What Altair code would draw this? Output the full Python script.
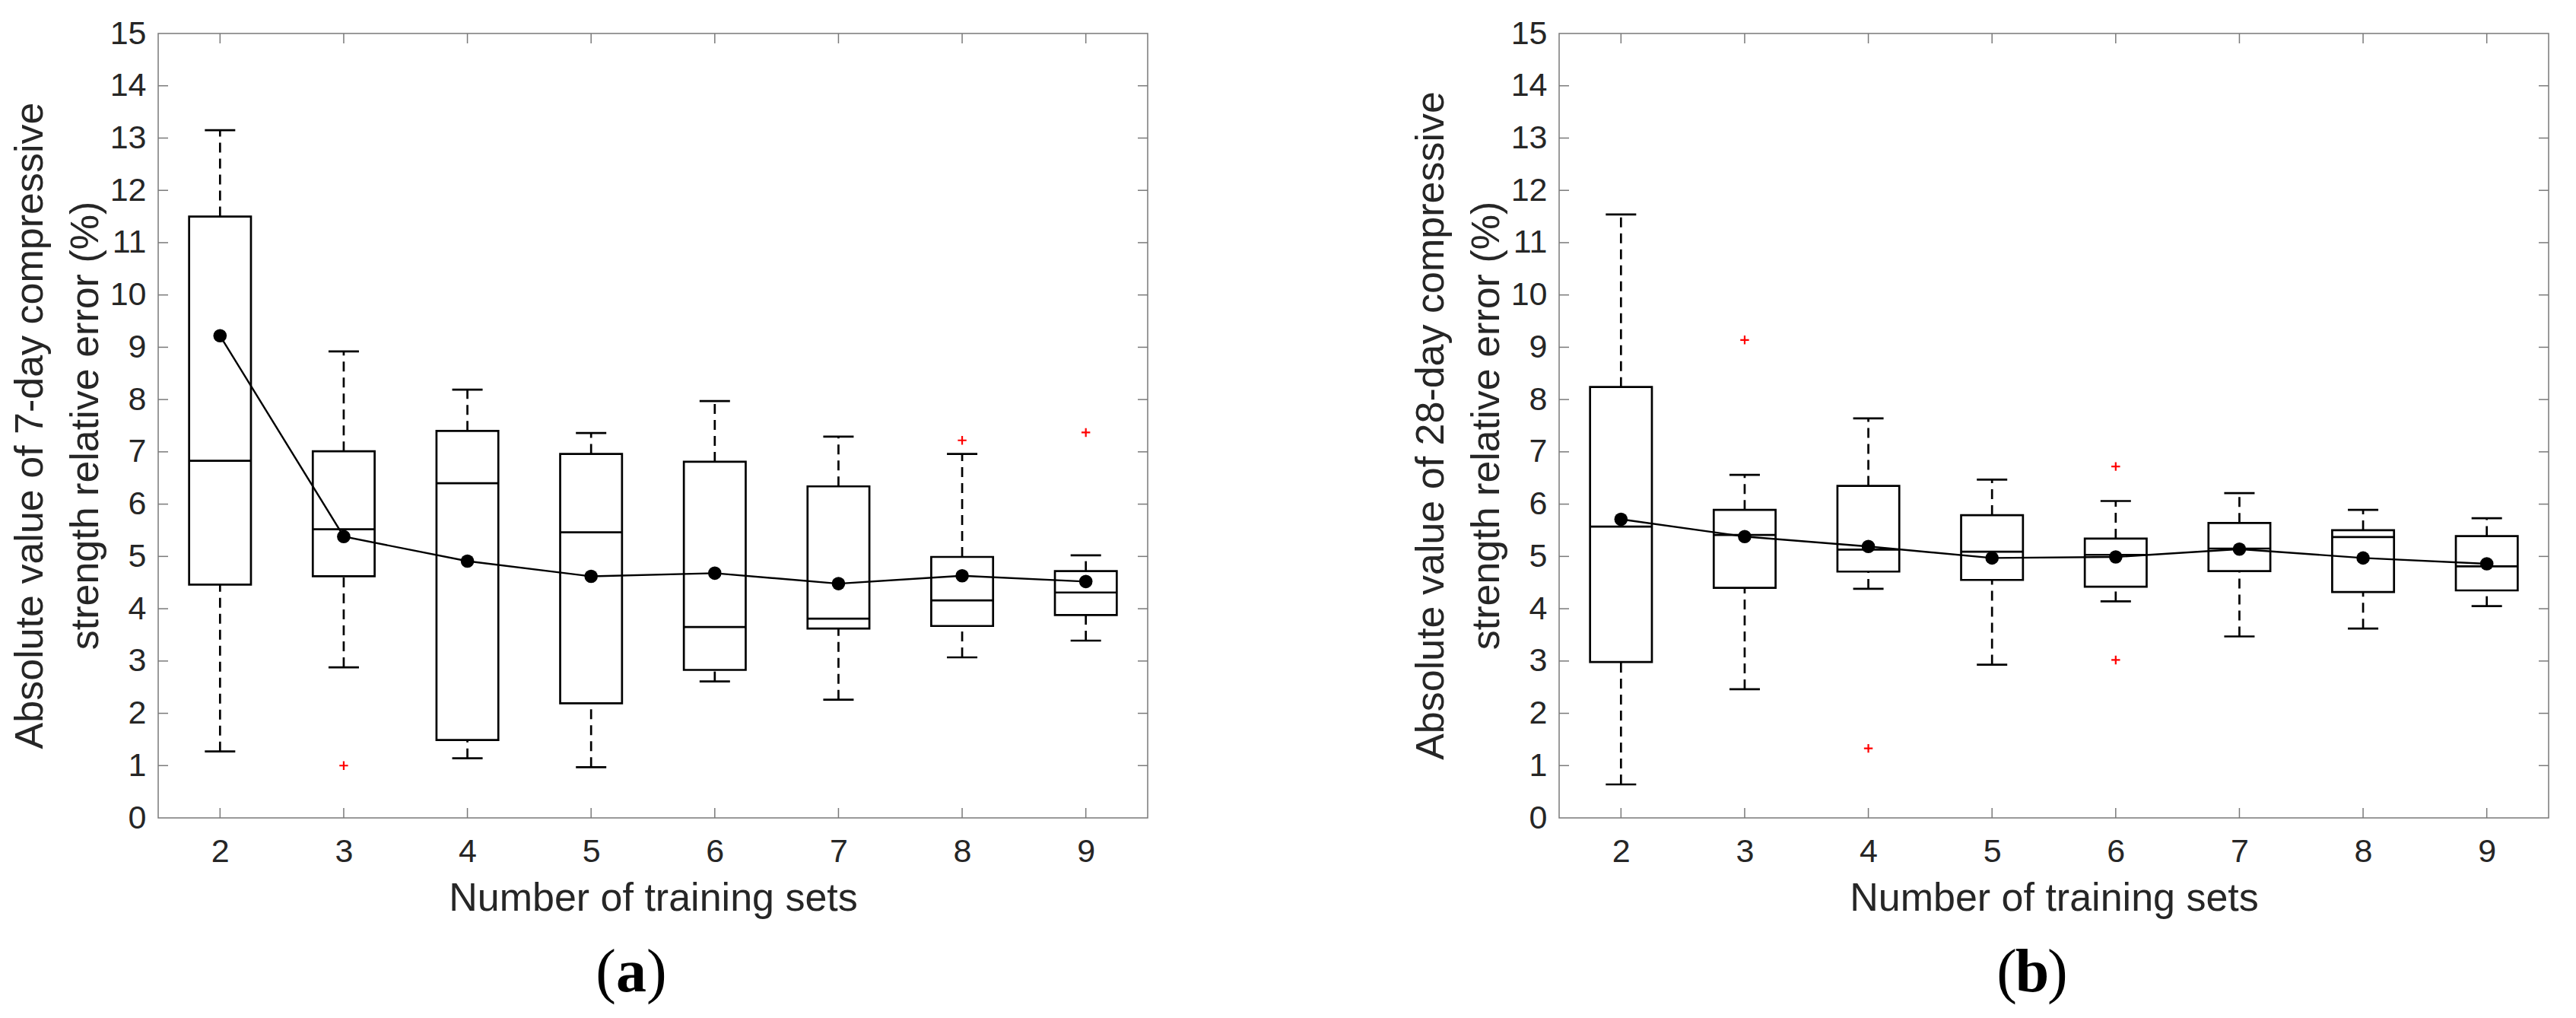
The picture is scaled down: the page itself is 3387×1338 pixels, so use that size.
import altair as alt
import pandas as pd

# ---------------- data ----------------
n_sets = [2, 3, 4, 5, 6, 7, 8, 9]

# (a) 7-day compressive strength
a_low = [1.27, 2.88, 1.14, 0.97, 2.61, 2.26, 3.07, 3.39]
a_q1 = [4.46, 4.62, 1.49, 2.19, 2.83, 3.62, 3.67, 3.88]
a_med = [6.83, 5.52, 6.40, 5.46, 3.65, 3.81, 4.16, 4.31]
a_q3 = [11.50, 7.01, 7.40, 6.96, 6.81, 6.34, 4.99, 4.72]
a_high = [13.15, 8.92, 8.19, 7.36, 7.97, 7.29, 6.96, 5.02]
a_mean = [9.22, 5.38, 4.91, 4.62, 4.68, 4.48, 4.63, 4.52]
a_out_x = [3, 8, 9]
a_out_y = [1.00, 7.22, 7.37]

# (b) 28-day compressive strength
b_low = [0.64, 2.46, 4.38, 2.93, 4.14, 3.47, 3.62, 4.05]
b_q1 = [2.98, 4.40, 4.71, 4.55, 4.42, 4.72, 4.32, 4.35]
b_med = [5.57, 5.41, 5.13, 5.09, 5.03, 5.15, 5.37, 4.81]
b_q3 = [8.24, 5.89, 6.35, 5.79, 5.34, 5.64, 5.50, 5.39]
b_high = [11.54, 6.56, 7.64, 6.47, 6.06, 6.21, 5.89, 5.73]
b_mean = [5.71, 5.38, 5.19, 4.97, 4.99, 5.14, 4.97, 4.86]
b_out_x = [3, 4, 6, 6]
b_out_y = [9.14, 1.33, 6.72, 3.02]

y_ticks = list(range(0, 16))
x_title = "Number of training sets"
a_ytitle = ["Absolute value of 7-day compressive", "strength relative error (%)"]
b_ytitle = ["Absolute value of 28-day compressive", "strength relative error (%)"]

# ---------------- styling ----------------
W, H = 1301, 1031
BOX_HALF = 0.25
CAP_HALF = 0.123
TICK_LEN = 13
FRAME = "#7a7a7a"
TXT = "#262626"
SANS = "Liberation Sans"
SERIF = "Liberation Serif"
LW = 2.7


def panel(low, q1, med, q3, high, mean, out_x, out_y, ytitle, tag):
    df = pd.DataFrame({"n": n_sets, "low": low, "q1": q1, "med": med,
                       "q3": q3, "high": high, "mean": mean})
    df["bl"] = df["n"] - BOX_HALF
    df["br"] = df["n"] + BOX_HALF
    df["cl"] = df["n"] - CAP_HALF
    df["cr"] = df["n"] + CAP_HALF
    out = pd.DataFrame({"n": out_x, "v": out_y})
    xt = pd.DataFrame({"t": n_sets})
    yt = pd.DataFrame({"t": y_ticks[1:-1]})

    xs = alt.Scale(domain=[1.5, 9.5], nice=False, zero=False)
    ys = alt.Scale(domain=[0, 15], nice=False, zero=False)

    xaxis = alt.Axis(values=n_sets, format="d", ticks=False, domain=False, grid=False,
                     labelFontSize=43, labelPadding=23, labelFlush=False,
                     title=x_title, titleFontSize=52, titlePadding=14,
                     titleFontWeight="normal")
    yaxis = alt.Axis(values=y_ticks, format="d", ticks=False, domain=False, grid=False,
                     labelFontSize=43, labelPadding=16, labelFlush=False,
                     title=None)

    def X(f):
        return alt.X(f, scale=xs, axis=xaxis)

    def Y(f):
        return alt.Y(f, scale=ys, axis=yaxis)

    base = alt.Chart(df)
    dash = [13, 8]

    wlo = base.mark_rule(color="black", strokeWidth=LW, strokeDash=dash).encode(
        x=X("n:Q"), y=Y("low:Q"), y2="q1:Q")
    whi = base.mark_rule(color="black", strokeWidth=LW, strokeDash=dash).encode(
        x=X("n:Q"), y=Y("q3:Q"), y2="high:Q")
    cap_lo = base.mark_rule(color="black", strokeWidth=LW).encode(
        x=X("cl:Q"), x2="cr:Q", y=Y("low:Q"))
    cap_hi = base.mark_rule(color="black", strokeWidth=LW).encode(
        x=X("cl:Q"), x2="cr:Q", y=Y("high:Q"))
    box = base.mark_rect(fill="white", fillOpacity=0, stroke="black", strokeWidth=LW).encode(
        x=X("bl:Q"), x2="br:Q", y=Y("q1:Q"), y2="q3:Q")
    median = base.mark_rule(color="black", strokeWidth=LW).encode(
        x=X("bl:Q"), x2="br:Q", y=Y("med:Q"))
    outl = alt.Chart(out).mark_point(shape="M-1,0L1,0M0,-1L0,1", filled=False,
                                     stroke="#ff0000", strokeWidth=2.2, size=130,
                                     opacity=1).encode(
        x=X("n:Q"), y=Y("v:Q"))
    mline = base.mark_line(color="black", strokeWidth=2.4).encode(
        x=X("n:Q"), y=Y("mean:Q"))
    mpts = base.mark_circle(color="black", size=310, opacity=1).encode(
        x=X("n:Q"), y=Y("mean:Q"))

    tick_style = dict(color=FRAME, strokeWidth=1.5)
    t_left = alt.Chart(yt).mark_rule(**tick_style).encode(
        y=Y("t:Q"), x=alt.value(0), x2=alt.value(TICK_LEN))
    t_right = alt.Chart(yt).mark_rule(**tick_style).encode(
        y=Y("t:Q"), x=alt.value(W - TICK_LEN), x2=alt.value(W))
    t_bot = alt.Chart(xt).mark_rule(**tick_style).encode(
        x=X("t:Q"), y=alt.value(H), y2=alt.value(H - TICK_LEN))
    t_top = alt.Chart(xt).mark_rule(**tick_style).encode(
        x=X("t:Q"), y=alt.value(0), y2=alt.value(TICK_LEN))

    lab = pd.DataFrame({"s": [tag]})
    yt1 = alt.Chart(lab).mark_text(text=ytitle[0], angle=270, font=SANS, fontSize=52,
                                   color=TXT, align="center", baseline="alphabetic").encode(
        x=alt.value(-152), y=alt.value(H / 2))
    yt2 = alt.Chart(lab).mark_text(text=ytitle[1], angle=270, font=SANS, fontSize=52,
                                   color=TXT, align="center", baseline="alphabetic").encode(
        x=alt.value(-79), y=alt.value(H / 2))

    cx = 622
    by = 1259
    p_open = alt.Chart(lab).mark_text(text="(", font=SERIF, fontSize=80, align="right",
                                      baseline="alphabetic", color="black").encode(
        x=alt.value(cx - 20), y=alt.value(by))
    p_mid = alt.Chart(lab).mark_text(font=SERIF, fontSize=80, fontWeight="bold", align="center",
                                     baseline="alphabetic", color="black").encode(
        text="s:N", x=alt.value(cx), y=alt.value(by))
    p_close = alt.Chart(lab).mark_text(text=")", font=SERIF, fontSize=80, align="left",
                                       baseline="alphabetic", color="black").encode(
        x=alt.value(cx + 20), y=alt.value(by))

    return alt.layer(wlo, whi, cap_lo, cap_hi, box, median, outl, mline, mpts,
                     t_left, t_right, t_bot, t_top, yt1, yt2,
                     p_open, p_mid, p_close).properties(width=W, height=H)


left = panel(a_low, a_q1, a_med, a_q3, a_high, a_mean, a_out_x, a_out_y, a_ytitle, "a")
right = panel(b_low, b_q1, b_med, b_q3, b_high, b_mean, b_out_x, b_out_y, b_ytitle, "b")

chart = alt.hconcat(left, right, spacing=344).properties(
    padding={"left": 5, "top": 14, "right": 5, "bottom": 5},
    background="white",
).configure_view(
    stroke=FRAME, strokeWidth=1.5
).configure_axis(
    labelFont=SANS, titleFont=SANS, labelColor=TXT, titleColor=TXT
)

chart.save("out.html", embed_options={"renderer": "svg", "actions": False})
